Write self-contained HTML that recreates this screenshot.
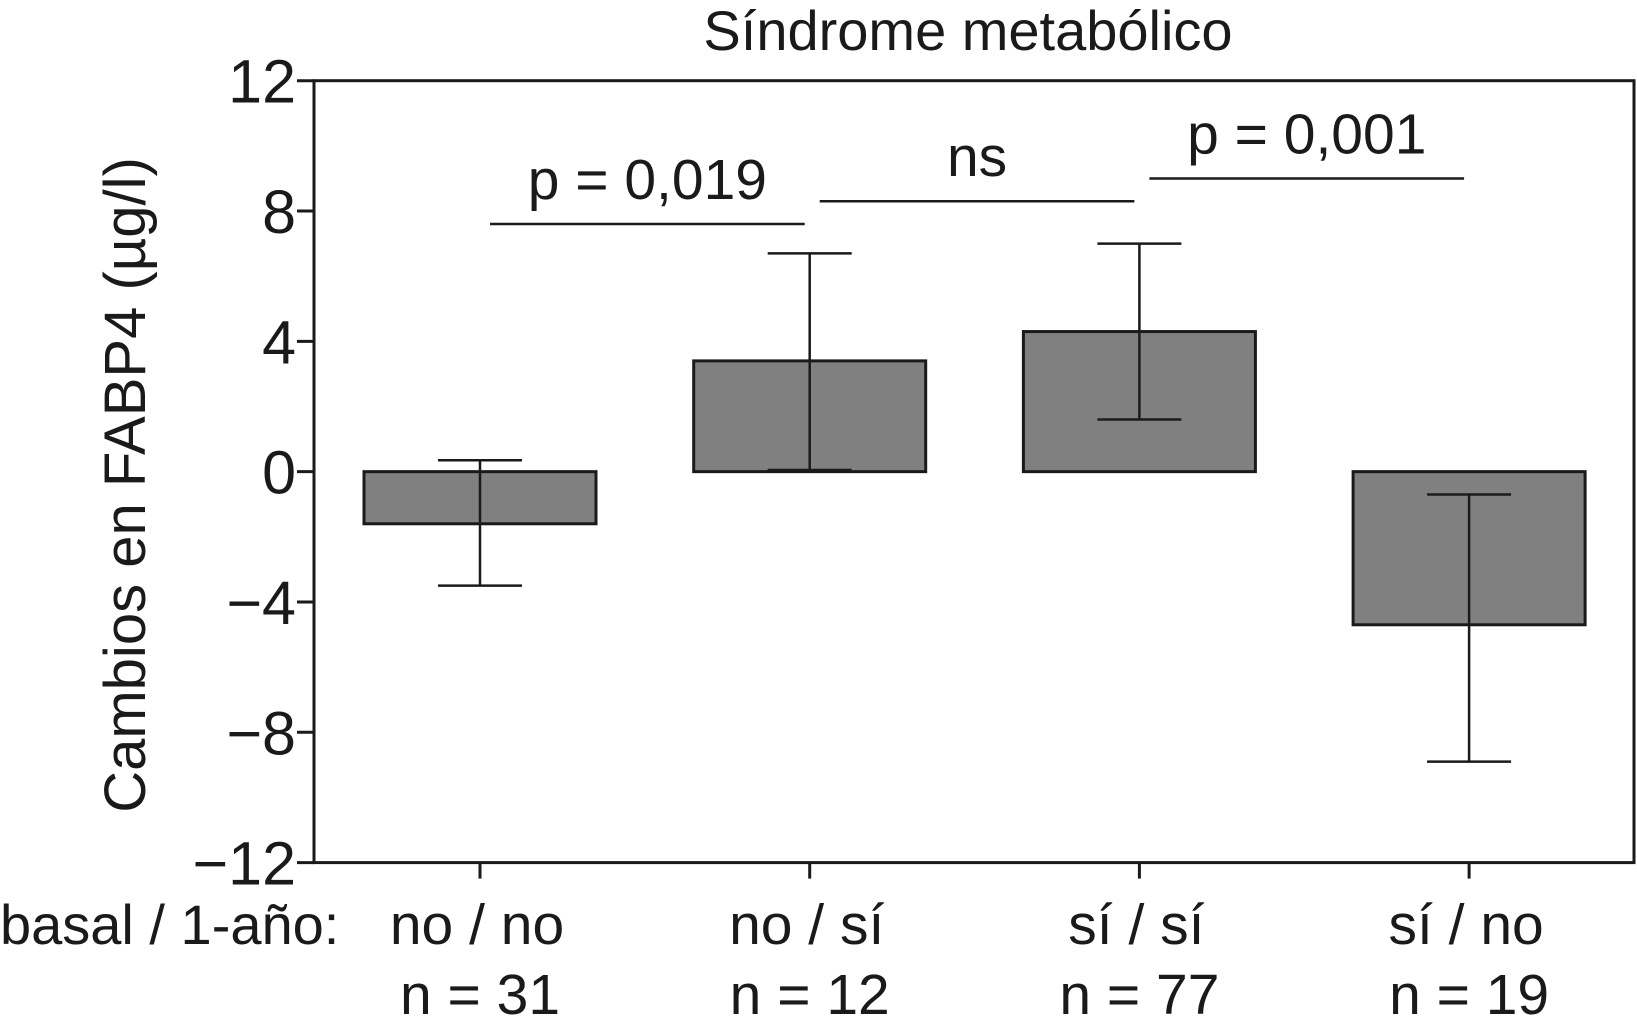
<!DOCTYPE html>
<html><head><meta charset="utf-8"><style>
html,body{margin:0;padding:0;background:#fff;}
svg{display:block;font-family:"Liberation Sans",Arial,sans-serif;}
</style></head><body>
<svg id="c" width="1637" height="1030" viewBox="0 0 1637 1030">
<text x="968" y="50" font-size="56" text-anchor="middle" fill="#1a1a1a">Síndrome metabólico</text>
<text transform="translate(145,485) rotate(-90)" font-size="58" text-anchor="middle" fill="#1a1a1a">Cambios en FABP4 (µg/l)</text>
<text x="0" y="944" font-size="56" fill="#1a1a1a">basal / 1-año:</text>
<g id="plot"></g>
</svg>
<script>
const categories=["no / no","no / sí","sí / sí","sí / no"];
const nLabels=["n = 31","n = 12","n = 77","n = 19"];
const means=[-1.6,3.4,4.3,-4.7];
const errUp=[0.35,6.7,7.0,-0.7];
const errLow=[-3.5,0.05,1.6,-8.9];
const yTicks=[12,8,4,0,-4,-8,-12];
const yTickLabels=["12","8","4","0","\u22124","\u22128","\u221212"];
const sigLabels=["p = 0,019","ns","p = 0,001"];
const sigY=[7.6,8.3,9.0];

const NS="http://www.w3.org/2000/svg";
const g=document.getElementById('plot');
const L=314,R=1635,T=80.7,B=862.6;
const y=v=>T+(12-v)*(B-T)/24;
const x=i=>480+i*329.7;
const bw=232;
function mk(t,a,p){const e=document.createElementNS(NS,t);for(const k in a)e.setAttribute(k,a[k]);(p||g).appendChild(e);return e;}
const S="#1a1a1a";
const fr=mk('rect',{x:L,y:T,width:R-L-1,height:B-T,fill:'none',stroke:S,'stroke-width':3});


yTicks.forEach((v,i)=>{
 const t=mk('line',{x1:L-17,x2:L,y1:y(v),y2:y(v),stroke:S,'stroke-width':3});
 
 
 const tx=mk('text',{x:L-18,y:y(v)+22,'font-size':61,'text-anchor':'end',fill:S});
 tx.textContent=yTickLabels[i];
 
 
});
categories.forEach((c,i)=>{
 const cx=x(i);
 const top=y(Math.max(0,means[i])),bot=y(Math.min(0,means[i]));
 const b=mk('rect',{x:cx-bw/2,y:top,width:bw,height:bot-top,fill:'#808080',stroke:S,'stroke-width':3});
 
 
 const el=mk('line',{x1:cx,x2:cx,y1:y(errUp[i]),y2:y(errLow[i]),stroke:S,'stroke-width':2.5});
 
 
 [errUp[i],errLow[i]].forEach(v=>{
  const cp=mk('line',{x1:cx-42,x2:cx+42,y1:y(v),y2:y(v),stroke:S,'stroke-width':2.5});
  
  
 });
 const tk=mk('line',{x1:cx,x2:cx,y1:B,y2:B+16,stroke:S,'stroke-width':3});
 
 
 const l1=mk('text',{x:cx-3,y:944,'font-size':57,'text-anchor':'middle',fill:S});
 l1.textContent=c;
 
 
 const l2=mk('text',{x:cx,y:1014,'font-size':57,'text-anchor':'middle',fill:S});
 l2.textContent=nLabels[i];
 
 
});
sigLabels.forEach((s,i)=>{
 const x1=x(i)+10,x2=x(i+1)-5,yy=y(sigY[i]);
 const ln=mk('line',{x1:x1,x2:x2,y1:yy,y2:yy,stroke:S,'stroke-width':2.5});
 
 
 const t=mk('text',{x:(x1+x2)/2,y:yy-25,'font-size':57,'text-anchor':'middle',fill:S});
 t.textContent=s;
 
 
});
</script>
</body></html>
